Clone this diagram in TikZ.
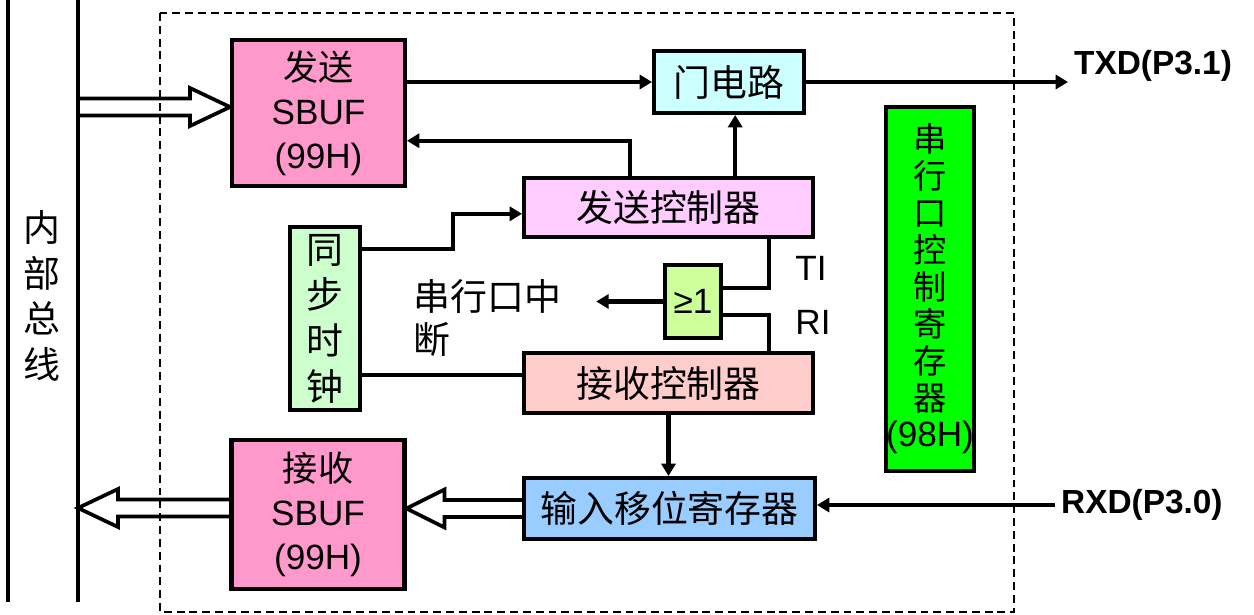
\documentclass[tikz,border=0pt]{standalone}
\usepackage{fontspec}
\setmainfont{Liberation Sans}
\newfontfamily\cjk{Noto Sans CJK SC}
\usetikzlibrary{arrows.meta,calc}
\definecolor{bufpink}{HTML}{FF99CC}
\definecolor{gatecyan}{HTML}{CCFFFF}
\definecolor{sendmag}{HTML}{FFCCFF}
\definecolor{clkgreen}{HTML}{CCFFCC}
\definecolor{orgreen}{HTML}{CCFF99}
\definecolor{recvpink}{HTML}{FFCCCC}
\definecolor{scongreen}{HTML}{00FF00}
\definecolor{shiftblue}{HTML}{99CCFF}
\newcommand{\bigarrow}[3]{
	\draw[line width=2.1pt, line join=miter] let \p1=(#1), \p2=(#2) in (\x1,{\y2+0.17cm}) -- ({\x2-(#3)},{\y2+0.17cm}) -- ({\x2-(#3)},{\y2+0.38cm}) -- (\x2,\y2) -- ({\x2-(#3)},{\y2-0.38cm}) -- ({\x2-(#3)},{\y2-0.17cm}) -- (\x1,{\y2-0.17cm});
}

\begin{document}
\begin{tikzpicture}[x=0.02cm, y=-0.02cm, >={Triangle[length=7pt,width=8pt]},
	box/.style={draw, line width=2.3pt, align=center, inner sep=0pt, font=\fontsize{20}{25}\selectfont},
	cnbox/.style={box, font=\cjk\fontsize{21}{25}\selectfont},
	conn/.style={line width=2.3pt}]
	\useasboundingbox (0,0) rectangle (1254,615);
	
	%internal bus
	\draw[conn] (8,0) -- (8,602);
	\draw[conn] (78,0) -- (78,602);
	\node[align=center, font=\cjk\fontsize{21}{26}\selectfont] (busname) at (42,296) {内\\部\\总\\线};
	
	%serial port boundary
	\draw[dashed, line width=0.8pt, dash pattern=on 4.5pt off 2.8pt] (160,13) rectangle (1014,612);
	
	%blocks
	\node[box, fill=bufpink, minimum width=3.46cm, minimum height=2.92cm] (sendbuf) at (318.5,113) {{\cjk 发送}\\SBUF\\(99H)};
	\node[cnbox, fill=gatecyan, minimum width=3.0cm, minimum height=1.24cm] (gate) at (729,82) {门电路};
	\node[cnbox, fill=sendmag, minimum width=5.78cm, minimum height=1.18cm] (sendctl) at (668.5,207.5) {发送控制器};
	\node[cnbox, fill=clkgreen, minimum width=1.4cm, minimum height=3.66cm, font=\cjk\fontsize{21}{26}\selectfont] (clock) at (325,318.5) {同\\步\\时\\钟};
	\node[box, fill=orgreen, minimum width=1.12cm, minimum height=1.46cm] (orgate) at (693,301.5) {≥1};
	\node[cnbox, fill=recvpink, minimum width=5.78cm, minimum height=1.2cm] (recvctl) at (668.5,383) {接收控制器};
	\node[cnbox, fill=scongreen, minimum width=1.76cm, minimum height=7.28cm, font=\cjk\fontsize{19}{21}\selectfont] (scon) at (930,289) {串\\行\\口\\控\\制\\寄\\存\\器\\{\rmfamily\fontsize{20}{21}\selectfont (98H)}};
	\node[box, fill=bufpink, minimum width=3.46cm, minimum height=2.98cm] (recvbuf) at (318,514.5) {{\cjk 接收}\\SBUF\\(99H)};
	\node[cnbox, fill=shiftblue, minimum width=5.82cm, minimum height=1.22cm] (shiftreg) at (669.5,508.5) {输入移位寄存器};
	
	%pins and flags
	\node[anchor=west, font=\bfseries\fontsize{19}{22}\selectfont] (txd) at (1068,66) {TXD(P3.1)};
	\node[anchor=west, font=\bfseries\fontsize{19}{22}\selectfont] (rxd) at (1055,505) {RXD(P3.0)};
	\node[font=\fontsize{20}{24}\selectfont] (ti) at (811,268) {TI};
	\node[font=\fontsize{20}{24}\selectfont] (ri) at (813,322) {RI};
	\node[anchor=west, align=left, inner sep=0pt, font=\cjk\fontsize{21}{24.5}\selectfont] (intr) at (413,318.5) {串行口中\\断};
	
	\coordinate (busin) at (80,107);
	\coordinate (busout) at (78,508);
	\coordinate (intrtip) at ($(intr.north east)+(35,0)$);
	\coordinate (gatein) at ($(gate.south west)!0.54!(gate.south east)$);
	
	%data paths
	\bigarrow{busin}{sendbuf.west |- busin}{0.8cm}
	\bigarrow{recvbuf.west |- busout}{busout}{-0.8cm}
	\bigarrow{shiftreg.west}{recvbuf.east |- shiftreg.west}{-0.76cm}
	\draw[conn, ->] (sendbuf.east |- gate.west) -- (gate.west);
	\draw[conn, ->] (gate.east) -- (gate.east -| txd.west);
	\draw[conn, ->] (rxd.west) -- (shiftreg.east |- rxd.west);
	
	%control
	\draw[conn, ->] ($(sendctl.north west)!0.37!(sendctl.north east)$) |- ($(sendbuf.north east)!0.685!(sendbuf.south east)$);
	\draw[conn, ->] (sendctl.north -| gatein) -- (gatein);
	\draw[conn, ->] ($(clock.north east)!0.13!(clock.south east)$) -- ++(91,0) |- ($(sendctl.north west)!0.6!(sendctl.south west)$);
	\draw[conn] (clock.east |- {$(recvctl.north west)!0.38!(recvctl.south west)$}) -- ($(recvctl.north west)!0.38!(recvctl.south west)$);
	\draw[conn, ->] (recvctl.south) -- (recvctl.south |- shiftreg.north);
	
	%interrupt flags
	\draw[conn] ($(sendctl.south west)!0.843!(sendctl.south east)$) |- ($(orgate.north east)!0.32!(orgate.south east)$);
	\draw[conn] ($(recvctl.north west)!0.843!(recvctl.north east)$) |- ($(orgate.north east)!0.67!(orgate.south east)$);
	\draw[conn, ->] (orgate.west) -- (orgate.west -| intrtip);
\end{tikzpicture}
\end{document}
